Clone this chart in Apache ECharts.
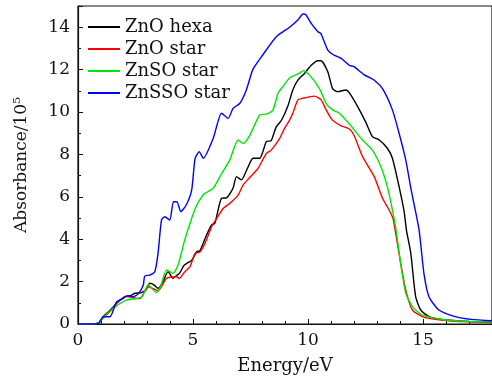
<!DOCTYPE html>
<html>
<head>
<meta charset="utf-8">
<script src="https://cdn.jsdelivr.net/npm/echarts@6/dist/echarts.min.js"></script>
<style>html,body{margin:0;padding:0;background:#fff}#c{width:492px;height:381px}</style>
</head>
<body>
<div id="c"></div>
<script>
const seriesNames = ['ZnO hexa', 'ZnO star', 'ZnSO star', 'ZnSSO star'];
const seriesColors = ['#000000', '#ff0000', '#00e600', '#0000ff'];

const hexaE = [0, 0.6, 0.9, 1.1, 1.35, 1.61, 1.8, 2.04, 2.3, 2.48, 2.76, 2.95, 3.12, 3.3, 3.48, 3.65, 3.92, 4.13, 4.25, 4.42, 4.6, 4.73, 4.94, 5.16, 5.3, 5.59, 5.81, 5.95, 6.24, 6.46, 6.74, 6.89, 7.11, 7.35, 7.61, 7.9, 8.19, 8.4, 8.62, 8.84, 9.13, 9.34, 9.56, 9.85, 10.14, 10.42, 10.57, 10.86, 11.07, 11.29, 11.65, 11.8, 12.16, 12.52, 12.8, 13.1, 13.45, 13.67, 13.96, 14.18, 14.28, 14.47, 14.68, 14.9, 15.26, 15.98, 17, 18];
const hexaA = [0, 0, 0.05, 0.35, 0.6, 0.9, 1.1, 1.29, 1.35, 1.45, 1.48, 1.6, 1.92, 1.85, 1.68, 1.9, 2.47, 2.15, 2.25, 2.4, 2.75, 2.86, 3.0, 3.41, 3.45, 4.2, 4.67, 4.75, 5.93, 5.95, 6.4, 6.95, 6.8, 7.3, 7.82, 7.82, 8.6, 8.65, 9.3, 9.6, 10.3, 11.04, 11.5, 11.82, 12.2, 12.42, 12.42, 11.9, 11.1, 10.96, 11.04, 10.9, 10.25, 9.5, 8.84, 8.68, 8.29, 7.82, 6.48, 5.3, 4.43, 3.33, 1.29, 0.66, 0.35, 0.19, 0.12, 0.08];

const starE = [0, 0.6, 0.9, 1.1, 1.46, 1.68, 2.11, 2.55, 2.7, 3.05, 3.48, 3.85, 4.28, 4.4, 4.65, 4.87, 5.09, 5.3, 5.52, 5.81, 6.03, 6.31, 6.6, 6.96, 7.18, 7.5, 7.83, 8.19, 8.4, 8.77, 8.98, 9.2, 9.34, 9.56, 9.78, 10.28, 10.57, 10.79, 11.0, 11.15, 11.44, 11.8, 12.0, 12.37, 12.88, 13.24, 13.45, 13.67, 13.74, 14.03, 14.25, 14.54, 14.97, 15.7, 17, 18];
const starA = [0, 0, 0.05, 0.3, 0.66, 0.98, 1.29, 1.21, 1.2, 1.76, 1.57, 2.15, 2.23, 2.15, 2.47, 2.7, 3.33, 3.4, 3.8, 4.59, 4.98, 5.45, 5.69, 6.08, 6.56, 6.95, 7.34, 8.05, 8.2, 8.76, 9.23, 9.62, 9.94, 10.57, 10.65, 10.75, 10.57, 10.1, 9.7, 9.54, 9.35, 9.2, 8.9, 7.9, 6.95, 5.93, 5.53, 5.06, 4.75, 2.86, 1.6, 0.66, 0.35, 0.2, 0.1, 0.08];

const znsoE = [0, 0.6, 0.9, 1.1, 1.6, 2.11, 2.62, 2.8, 3.05, 3.41, 3.6, 3.85, 4.13, 4.35, 4.64, 4.94, 5.16, 5.38, 5.52, 5.88, 6.17, 6.6, 6.96, 7.18, 7.47, 7.9, 8.19, 8.48, 8.7, 8.91, 9.2, 9.63, 9.8, 10.06, 10.5, 10.79, 11.07, 11.36, 11.8, 12.37, 12.8, 13.17, 13.45, 13.67, 13.82, 14.03, 14.25, 14.54, 14.97, 15.98, 17, 18];
const znsoA = [0, 0, 0.05, 0.3, 0.8, 1.13, 1.21, 1.3, 1.84, 1.48, 1.8, 2.55, 2.39, 2.78, 3.96, 4.98, 5.6, 6.0, 6.16, 6.4, 6.95, 7.74, 8.68, 8.52, 8.9, 9.86, 9.9, 10.1, 10.9, 11.2, 11.6, 11.83, 11.95, 11.75, 11.1, 10.4, 10.1, 9.94, 9.43, 8.68, 8.2, 7.42, 6.48, 5.38, 4.5, 2.86, 1.45, 0.82, 0.42, 0.19, 0.12, 0.1];

const znssoE = [0, 0.6, 0.89, 1.1, 1.39, 1.68, 1.97, 2.11, 2.4, 2.62, 2.84, 2.9, 3.12, 3.34, 3.48, 3.63, 3.77, 3.99, 4.15, 4.3, 4.47, 4.7, 4.94, 5.09, 5.27, 5.45, 5.88, 6.24, 6.53, 6.74, 7.03, 7.32, 7.6, 8.04, 8.62, 9.2, 9.56, 9.78, 9.9, 10.14, 10.42, 10.56, 10.86, 11.1, 11.44, 11.8, 12.0, 12.45, 12.88, 13.24, 13.67, 13.96, 14.25, 14.49, 14.83, 15.04, 15.26, 15.69, 16.4, 17.1, 18];
const znssoA = [0, 0, 0.03, 0.34, 0.34, 1.05, 1.21, 1.32, 1.29, 1.42, 1.84, 2.26, 2.31, 2.47, 3.33, 4.9, 5.06, 4.9, 5.77, 5.77, 5.3, 5.6, 6.3, 7.8, 8.13, 7.82, 8.76, 9.94, 9.7, 10.17, 10.4, 11.04, 12.0, 12.7, 13.55, 14.0, 14.34, 14.62, 14.6, 14.18, 13.8, 13.7, 12.92, 12.7, 12.53, 12.2, 12.14, 11.75, 11.5, 11.1, 10.1, 9.0, 7.74, 6.3, 4.43, 2.39, 1.29, 0.66, 0.35, 0.22, 0.15];

const xs = [hexaE, starE, znsoE, znssoE];
const ys = [hexaA, starA, znsoA, znssoA];

const font = 'DejaVu Serif';
const chart = echarts.init(document.getElementById('c'), null, {renderer: 'canvas'});
chart.setOption({
  animation: false,
  backgroundColor: '#fff',
  grid: {left: 78, top: 6, right: -1, bottom: 57, show: true, borderColor: '#111', borderWidth: 1.2, backgroundColor: 'transparent'},
  legend: {
    left: 83, top: 13, orient: 'vertical', itemGap: 4, itemWidth: 32, itemHeight: 2,
    icon: 'rect',
    textStyle: {fontFamily: font, fontSize: 18, color: '#111', lineHeight: 18},
    data: seriesNames
  },
  xAxis: {
    type: 'value', min: 0, max: 18, interval: 5,
    name: 'Energy/eV', nameLocation: 'middle', nameGap: 33,
    nameTextStyle: {fontFamily: font, fontSize: 18, color: '#111'},
    axisLine: {lineStyle: {color: '#111', width: 1.2}},
    axisTick: {inside: true, length: 5, lineStyle: {color: '#111'}},
    minorTick: {show: true, splitNumber: 5, length: 3, lineStyle: {color: '#111'}},
    axisLabel: {fontFamily: font, fontSize: 17, color: '#111', margin: 8, showMaxLabel: false},
    splitLine: {show: false}
  },
  yAxis: {
    type: 'value', min: 0, max: 15, interval: 2,
    name: 'Absorbance/10⁵', nameLocation: 'middle', nameGap: 48,
    nameTextStyle: {fontFamily: font, fontSize: 17, color: '#111'},
    axisLine: {lineStyle: {color: '#111', width: 1.2}},
    axisTick: {inside: true, length: 5, lineStyle: {color: '#111'}},
    minorTick: {show: true, splitNumber: 2, length: 3, lineStyle: {color: '#111'}},
    axisLabel: {fontFamily: font, fontSize: 17, color: '#111', margin: 8, showMaxLabel: false},
    splitLine: {show: false}
  },
  series: seriesNames.map((n, i) => ({
    name: n, type: 'line', showSymbol: false, symbol: 'none', smooth: 0.2,
    lineStyle: {color: seriesColors[i], width: 1.4},
    itemStyle: {color: seriesColors[i]},
    data: xs[i].map((e, k) => [e, ys[i][k]])
  }))
});
</script>
</body>
</html>
